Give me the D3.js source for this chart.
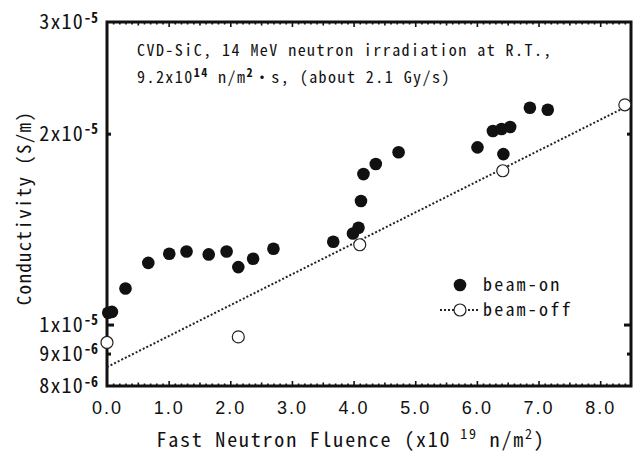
<!DOCTYPE html>
<html>
<head>
<meta charset="utf-8">
<script src="https://cdn.jsdelivr.net/npm/d3@7"></script>
<style>
  body { margin: 0; background: #fff; }
  svg { font-family: "Noto Sans Mono CJK JP", "Noto Sans CJK JP", "DejaVu Sans Mono", monospace; fill: #111; }
</style>
</head>
<body>
<svg id="chart"></svg>
<script>
// beam-on measurements (fluence x1e19 n/m2, conductivity S/m)
const onFluence = [0.02, 0.08, 0.30, 0.67, 1.01, 1.29, 1.65, 1.94, 2.13, 2.37, 2.70,
                   3.67, 3.99, 4.08, 4.12, 4.16, 4.36, 4.73, 6.01, 6.26, 6.40, 6.54, 6.43, 6.86, 7.15];
const onCond = [1.044e-5, 1.047e-5, 1.140e-5, 1.251e-5, 1.293e-5, 1.304e-5, 1.290e-5, 1.304e-5, 1.232e-5, 1.270e-5, 1.317e-5,
                1.351e-5, 1.392e-5, 1.421e-5, 1.566e-5, 1.727e-5, 1.791e-5, 1.869e-5, 1.903e-5, 2.019e-5, 2.034e-5, 2.049e-5, 1.857e-5, 2.197e-5, 2.182e-5];

// beam-off measurements
const offFluence = [0.0, 2.13, 4.10, 6.42, 8.40];
const offCond = [9.37e-6, 9.56e-6, 1.336e-5, 1.748e-5, 2.221e-5];

// fitted line (straight on log scale)
const fitFluence = [0.0, 8.4];
const fitCond = [8.57e-6, 2.20e-5];

const xTicks = [0, 1, 2, 3, 4, 5, 6, 7, 8];
const yTicks = [3e-5, 2e-5, 1e-5, 9e-6, 8e-6];
const yMantissa = ["3", "2", "1", "9", "8"];
const yExponent = ["-5", "-5", "-5", "-6", "-6"];

const width = 637, height = 453;
const margin = {left: 107, right: 6, top: 22, bottom: 67};

const svg = d3.select("#chart").attr("width", width).attr("height", height);

const x = d3.scaleLinear().domain([0, 8.5]).range([margin.left, width - margin.right]);
const y = d3.scaleLog().domain([8e-6, 3e-5]).range([height - margin.bottom, margin.top]);

const x0 = x.range()[0], x1 = x.range()[1];
const y0 = y.range()[0], y1 = y.range()[1];

// minor ticks on x
const minorX = d3.range(1, 85).map(i => i / 10).filter(v => Math.abs(v - Math.round(v)) > 1e-6);
const halfX = minorX.filter(v => Math.abs(v * 2 - Math.round(v * 2)) < 1e-6);
const smallX = minorX.filter(v => halfX.indexOf(v) < 0);

function tickAxis(axis, values, size) {
  return axis.tickValues(values).tickSize(size).tickFormat("");
}

const axisLayer = svg.append("g");

[[d3.axisBottom, y0], [d3.axisTop, y1]].forEach(([fn, pos]) => {
  [[smallX, -2.5], [halfX, -3.5], [xTicks.slice(1), -5]].forEach(([vals, size]) => {
    axisLayer.append("g")
      .attr("transform", `translate(0,${pos})`)
      .call(tickAxis(fn(x), vals, size))
      .call(g => g.select(".domain").remove())
      .call(g => g.selectAll("line").attr("stroke", "#111").attr("stroke-width", 1.6));
  });
});

// y ticks on both sides
const yTickSize = v => (v === 1e-5 ? -7 : -4);
[[d3.axisLeft, x0], [d3.axisRight, x1]].forEach(([fn, pos]) => {
  yTicks.slice(1, 4).forEach(v => {
    axisLayer.append("g")
      .attr("transform", `translate(${pos},0)`)
      .call(tickAxis(fn(y), [v], yTickSize(v)))
      .call(g => g.select(".domain").remove())
      .call(g => g.selectAll("line").attr("stroke", "#111").attr("stroke-width", 3));
  });
});

// frame
svg.append("rect")
  .attr("x", x0).attr("y", y1)
  .attr("width", x1 - x0).attr("height", y0 - y1)
  .attr("fill", "none").attr("stroke", "#111").attr("stroke-width", 3);

// x tick labels
svg.append("g")
  .attr("transform", `translate(0,${y0})`)
  .call(d3.axisBottom(x).tickValues(xTicks).tickSize(0).tickPadding(15).tickFormat(d3.format(".1f")))
  .call(g => g.select(".domain").remove())
  .call(g => g.selectAll("text")
    .attr("font-family", null).attr("font-size", 18).attr("fill", "#111")
    .attr("letter-spacing", 2));

// y tick labels with superscript exponents
const yLab = svg.append("g").attr("font-size", 20).attr("letter-spacing", 1.2);
yTicks.forEach((v, i) => {
  const t = yLab.append("text")
    .attr("x", 98).attr("y", y(v)).attr("dy", "0.35em")
    .attr("text-anchor", "end").attr("fill", "#111");
  t.append("tspan").text(yMantissa[i] + "x10");
  t.append("tspan").attr("dy", "-0.45em").attr("font-size", 14).attr("font-weight", "bold")
    .attr("letter-spacing", 0).text(yExponent[i]);
});

// axis titles
const xt = svg.append("text")
  .attr("x", 351).attr("y", 447)
  .attr("text-anchor", "middle").attr("font-size", 20).attr("fill", "#111")
  .attr("letter-spacing", 1.8);
xt.append("tspan").text("Fast Neutron Fluence (x10");
xt.append("tspan").attr("dy", -8).attr("font-size", 14).text(" 19");
xt.append("tspan").attr("dy", 8).text(" n/m");
xt.append("tspan").attr("dy", -8).attr("font-size", 14).text("2");
xt.append("tspan").attr("dy", 8).text(")");

svg.append("text")
  .attr("transform", `translate(31,${208}) rotate(-90)`)
  .attr("text-anchor", "middle").attr("font-size", 19).attr("fill", "#111")
  .attr("letter-spacing", 1.3)
  .text("Conductivity (S/m)");

// annotation
const note = svg.append("g").attr("font-size", 16).attr("fill", "#111").attr("letter-spacing", 1.45);
note.append("text").attr("x", 137).attr("y", 56)
  .text("CVD-SiC, 14 MeV neutron irradiation at R.T.,");
const n2 = note.append("text").attr("x", 137).attr("y", 83);
n2.append("tspan").text("9.2x10");
n2.append("tspan").attr("dy", -6).attr("font-size", 12).attr("font-weight", "bold").text("14");
n2.append("tspan").attr("dy", 6).text(" n/m");
n2.append("tspan").attr("dy", -6).attr("font-size", 12).attr("font-weight", "bold").text("2");
n2.append("tspan").attr("dy", 6).text("\u30FBs, (about 2.1 Gy/s)");

// fit line
svg.append("path")
  .datum(fitFluence.map((f, i) => [f, fitCond[i]]))
  .attr("fill", "none").attr("stroke", "#222").attr("stroke-width", 2)
  .attr("stroke-dasharray", "2,2")
  .attr("d", d3.line().x(d => x(d[0])).y(d => y(d[1])));

// beam-off points
svg.append("g").selectAll("circle")
  .data(offFluence.map((f, i) => [f, offCond[i]]))
  .enter().append("circle")
  .attr("cx", d => x(d[0])).attr("cy", d => y(d[1])).attr("r", 6)
  .attr("fill", "#fff").attr("stroke", "#222").attr("stroke-width", 1.2);

// beam-on points
svg.append("g").selectAll("circle")
  .data(onFluence.map((f, i) => [f, onCond[i]]))
  .enter().append("circle")
  .attr("cx", d => x(d[0])).attr("cy", d => y(d[1])).attr("r", 6.3)
  .attr("fill", "#111");

// legend
const leg = svg.append("g").attr("font-size", 18).attr("fill", "#111").attr("letter-spacing", 2.2);
leg.append("circle").attr("cx", 460).attr("cy", 285).attr("r", 6.3).attr("fill", "#111");
leg.append("text").attr("x", 483).attr("y", 285).attr("dy", "0.35em").text("beam-on");
leg.append("line").attr("x1", 440).attr("x2", 480).attr("y1", 310).attr("y2", 310)
  .attr("stroke", "#222").attr("stroke-width", 2).attr("stroke-dasharray", "2,2");
leg.append("circle").attr("cx", 460).attr("cy", 310).attr("r", 6)
  .attr("fill", "#fff").attr("stroke", "#222").attr("stroke-width", 1.2);
leg.append("text").attr("x", 483).attr("y", 310).attr("dy", "0.35em").text("beam-off");
</script>
</body>
</html>
